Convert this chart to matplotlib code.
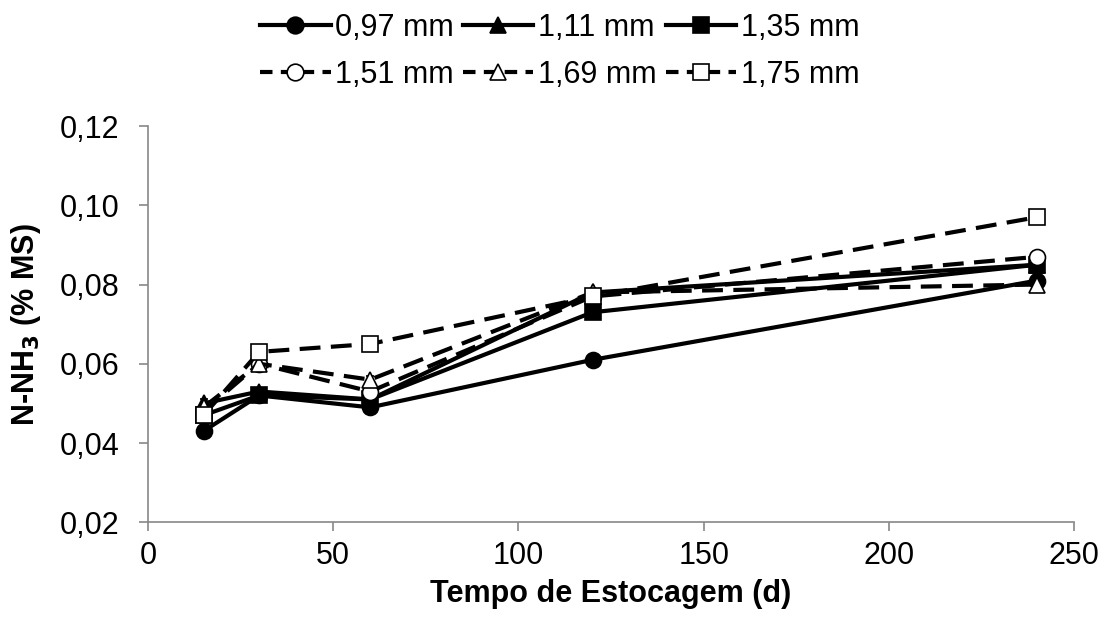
import numpy as np
import matplotlib.pyplot as plt
from matplotlib.lines import Line2D

plt.rcParams['font.family'] = ['Liberation Sans', 'DejaVu Sans']

dias = [15, 30, 60, 120, 240]
labels = ['0,97 mm', '1,11 mm', '1,35 mm', '1,51 mm', '1,69 mm', '1,75 mm']
valores = [
    [0.043, 0.052, 0.049, 0.061, 0.081],
    [0.050, 0.053, 0.051, 0.078, 0.085],
    [0.047, 0.052, 0.051, 0.073, 0.085],
    [0.048, 0.060, 0.053, 0.077, 0.087],
    [0.049, 0.060, 0.056, 0.078, 0.080],
    [0.047, 0.063, 0.065, 0.077, 0.097],
]
erros = [
    [0.001, 0.001, 0.001, 0.001, 0.001],
    [0.001, 0.001, 0.001, 0.001, 0.001],
    [0.001, 0.001, 0.001, 0.001, 0.001],
    [0.001, 0.001, 0.001, 0.001, 0.001],
    [0.001, 0.001, 0.001, 0.001, 0.001],
    [0.001, 0.001, 0.001, 0.001, 0.001],
]
markers = ['o', '^', 's', 'o', '^', 's']
styles = ['-', '-', '-', '--', '--', '--']
fills = ['black', 'black', 'black', 'white', 'white', 'white']

fig = plt.figure(figsize=(11.04, 6.21), dpi=100)
ax = fig.add_axes([0.134, 0.159, 0.839, 0.638])

handles = []
for i in range(len(labels)):
    dash = (5, 2.5) if styles[i] == '--' else (None, None)
    ax.errorbar(dias, valores[i], yerr=erros[i], color='black', ls=styles[i],
                lw=3, marker=markers[i], ms=11.5, mfc=fills[i], mec='black',
                mew=1.2, elinewidth=1, capsize=3, dashes=dash)
    handles.append(Line2D([], [], color='black', ls=styles[i], lw=3,
                          marker=markers[i], ms=12, mfc=fills[i], mec='black',
                          mew=1.2, dashes=(3, 2) if styles[i] == '--' else (None, None)))

ax.set_xlim(0, 250)
ax.set_ylim(0.02, 0.12)
ax.set_xticks([0, 50, 100, 150, 200, 250])
ax.set_yticks([0.02, 0.04, 0.06, 0.08, 0.10, 0.12])
ax.set_yticklabels(['0,02', '0,04', '0,06', '0,08', '0,10', '0,12'])
ax.tick_params(labelsize=22, direction='out', length=6.5, color='#888888', width=1.2)
ax.tick_params(axis='x', pad=7)
ax.tick_params(axis='y', pad=14)
for s in ['top', 'right']:
    ax.spines[s].set_visible(False)
for s in ['left', 'bottom']:
    ax.spines[s].set_color('#888888')
    ax.spines[s].set_linewidth(1.2)

ax.set_xlabel('Tempo de Estocagem (d)', fontsize=22, fontweight='bold', labelpad=6)
ax.set_ylabel('N-NH$_\\mathbf{3}$ (% MS)', fontsize=22, fontweight='bold', labelpad=12)

# legenda preenchida por linha (ordem do original)
ordem = [0, 3, 1, 4, 2, 5]
fig.legend([handles[k] for k in ordem], [labels[k] for k in ordem], ncol=3,
           loc='upper center', bbox_to_anchor=(0.507, 1.004), frameon=False,
           fontsize=22, handlelength=2.3, handletextpad=0.15,
           columnspacing=0.3, labelspacing=0.55, borderpad=0)

fig.savefig('out.png', dpi=100)
